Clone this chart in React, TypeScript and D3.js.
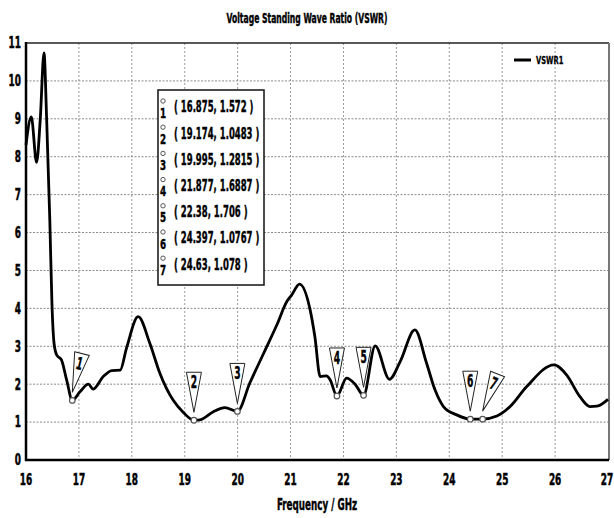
import React from "react";
import * as d3 from "d3";

const freq = [
  16.0, 16.1, 16.2, 16.27, 16.34, 16.39, 16.45, 16.49, 16.53, 16.58, 16.67, 16.77, 16.875,
  17.02, 17.18, 17.27, 17.46, 17.62, 17.78, 17.9, 18.12, 18.34, 18.53, 18.78, 18.97, 19.174,
  19.29, 19.54, 19.76, 19.995, 20.23, 20.49, 20.74, 20.93, 21.02, 21.17, 21.37, 21.46, 21.56,
  21.68, 21.75, 21.877, 22.06, 22.22, 22.38, 22.6, 22.87, 23.07, 23.35, 23.57, 23.73, 23.89,
  24.14, 24.397, 24.63, 24.9, 25.15, 25.46, 25.98, 26.22, 26.47, 26.66, 26.79, 27.0,
];
const vswr = [
  8.31, 9.05, 7.85, 9.0, 10.74, 9.0, 6.33, 4.14, 3.08, 2.77, 2.64, 2.1, 1.572,
  1.8, 2.0, 1.87, 2.2, 2.36, 2.37, 2.95, 3.78, 3.08, 2.29, 1.58, 1.26, 1.0483,
  1.06, 1.27, 1.38, 1.2815, 2.03, 2.81, 3.56, 4.18, 4.35, 4.64, 3.96, 3.25, 2.2,
  2.22, 2.11, 1.6887, 2.16, 2.0, 1.706, 3.01, 2.13, 2.59, 3.43, 2.56, 1.85, 1.41,
  1.19, 1.0767, 1.078, 1.16, 1.41, 1.93, 2.51, 2.24, 1.67, 1.41, 1.42, 1.6,
];

const markerIds = ["1", "2", "3", "4", "5", "6", "7"];
const markerFreq = [16.875, 19.174, 19.995, 21.877, 22.38, 24.397, 24.63];
const markerVswr = [1.572, 1.0483, 1.2815, 1.6887, 1.706, 1.0767, 1.078];
const markerLabels = [
  "( 16.875, 1.572 )",
  "( 19.174, 1.0483 )",
  "( 19.995, 1.2815 )",
  "( 21.877, 1.6887 )",
  "( 22.38, 1.706 )",
  "( 24.397, 1.0767 )",
  "( 24.63, 1.078 )",
];

const xTicks = [16, 17, 18, 19, 20, 21, 22, 23, 24, 25, 26, 27];
const yTicks = [0, 1, 2, 3, 4, 5, 6, 7, 8, 9, 10, 11];

const title = "Voltage Standing Wave Ratio (VSWR)";
const xLabel = "Frequency / GHz";
const seriesName = "VSWR1";

const FONT = "'DejaVu Sans Condensed', 'DejaVu Sans', sans-serif";

type TProps = {
  x: number;
  y: number;
  sx?: number;
  size: number;
  anchor?: "start" | "middle" | "end";
  heavy?: number;
  children: React.ReactNode;
};
function T({ x, y, sx = 0.62, size, anchor = "start", heavy = 0.5, children }: TProps) {
  return (
    <g transform={`translate(${x},${y}) scale(${sx},1)`}>
      <text
        x={0}
        y={0}
        textAnchor={anchor}
        dominantBaseline="central"
        fontSize={size}
        fontWeight="bold"
        fill="#000"
        stroke="#000"
        strokeWidth={heavy}
      >
        {children}
      </text>
    </g>
  );
}

export default function App() {
  const W = 614, H = 518;
  const left = 26, right = 608, top = 43, bottom = 460;
  const x = d3.scaleLinear().domain([16, 27]).range([left, right]);
  const y = d3.scaleLinear().domain([0, 11]).range([bottom, top]);
  const pts: [number, number][] = freq.map((f, i) => [f, vswr[i]]);
  const line = d3
    .line<[number, number]>()
    .x((d) => x(d[0]))
    .y((d) => y(d[1]))
    .curve(d3.curveMonotoneX);

  const tilt: Record<string, number> = { "1": 14, "7": 22 };
  const tableX = 158, tableY = 90, tableW = 106, tableH = 195;
  const rowY0 = 107, rowStep = 26.2;

  return (
    <svg width={W} height={H} style={{ position: "absolute", left: 0, top: 0, background: "#fff" }} fontFamily={FONT}>
      <rect x={0} y={0} width={W} height={H} fill="#fff" />
      <T x={307} y={18} size={14} sx={0.607} anchor="middle" heavy={0.4}>{title}</T>
      {/* grid */}
      {xTicks.slice(1, -1).map((t) => (
        <line key={"gx" + t} x1={x(t)} x2={x(t)} y1={top} y2={bottom} stroke="#9a9a9a" strokeWidth={1} strokeDasharray="2,2" />
      ))}
      {yTicks.slice(1, -1).map((t) => (
        <line key={"gy" + t} x1={left} x2={right} y1={y(t)} y2={y(t)} stroke="#8a8a8a" strokeWidth={1} strokeDasharray="2,1.5" />
      ))}
      {/* frame */}
      <line x1={left} x2={right + 1} y1={top} y2={top} stroke="#222" strokeWidth={1.5} />
      <line x1={right + 1} x2={right + 1} y1={top} y2={bottom} stroke="#777" strokeWidth={2} />
      <line x1={left} x2={left} y1={top - 1} y2={bottom + 1} stroke="#000" strokeWidth={2.5} />
      <line x1={left - 1} x2={right + 1} y1={bottom} y2={bottom} stroke="#000" strokeWidth={2.5} />
      {/* y tick labels */}
      {yTicks.map((t) => (
        <T key={"yl" + t} x={21} y={y(t)} size={16} sx={0.62} anchor="end">{t}</T>
      ))}
      {/* x tick labels */}
      {xTicks.map((t) => (
        <T key={"xl" + t} x={t === 27 ? x(t) - 1 : x(t)} y={480} size={16} sx={0.62} anchor="middle">{t}</T>
      ))}
      <T x={317} y={505} size={15} sx={0.65} anchor="middle" heavy={0.4}>{xLabel}</T>
      {/* legend */}
      <line x1={514} x2={531} y1={60} y2={60} stroke="#000" strokeWidth={3} />
      <T x={536} y={60} size={11} sx={0.68} heavy={0.3}>{seriesName}</T>
      {/* curve */}
      <path d={line(pts) || ""} fill="none" stroke="#000" strokeWidth={2.8} strokeLinejoin="round" />
      {/* markers */}
      {markerIds.map((id, i) => {
        const px = x(markerFreq[i]);
        const py = y(markerVswr[i]);
        const tipY = py - 8;
        const h = 40, hw = 7.5;
        const rot = tilt[id] || 0;
        return (
          <g key={"m" + id}>
            <g transform={`rotate(${rot},${px},${tipY})`}>
              <path d={`M${px - hw},${tipY - h}L${px + hw},${tipY - h}L${px},${tipY}Z`} fill="#fff" stroke="#222" strokeWidth={1} />
              <T x={px} y={tipY - h + 10} size={17} sx={0.6} anchor="middle" heavy={0.4}>{id}</T>
            </g>
            <circle cx={px} cy={py} r={2.8} fill="#fff" stroke="#555" strokeWidth={1.2} />
          </g>
        );
      })}
      {/* marker table */}
      <rect x={tableX} y={tableY} width={tableW} height={tableH} fill="#fff" stroke="#111" strokeWidth={1.5} />
      {markerLabels.map((lab, i) => {
        const ry = rowY0 + rowStep * i;
        return (
          <g key={"t" + i}>
            <circle cx={163} cy={ry - 6} r={2.2} fill="#fff" stroke="#555" strokeWidth={1} />
            <T x={163} y={ry + 6} size={14} sx={0.7} anchor="middle" heavy={0.4}>{markerIds[i]}</T>
            <T x={174} y={ry} size={16} sx={0.59} heavy={0.4}>{lab}</T>
          </g>
        );
      })}
    </svg>
  );
}
